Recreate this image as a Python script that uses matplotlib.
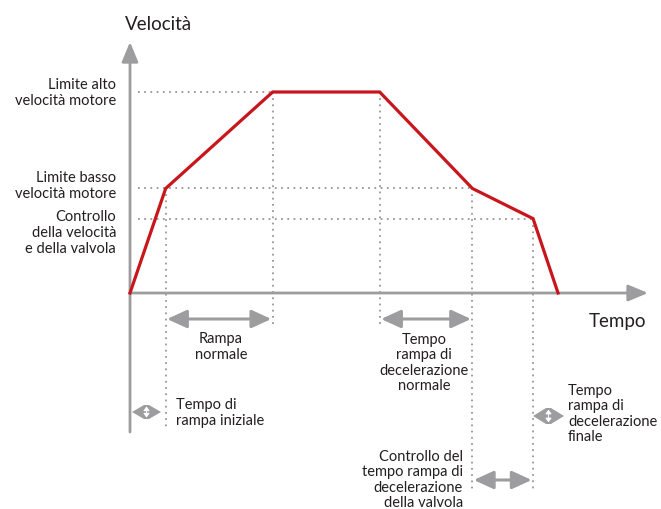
import matplotlib.pyplot as plt

# profilo di velocita' (unita' arbitrarie)
tempi = [0, 1, 4, 7, 9.6, 11.3, 12]
velocita = [0, 52, 100, 100, 52, 37, 0]
v_alto = 100
v_basso = 52
v_valvola = 37

ROSSO = '#c8161d'
GRIGIO = '#9d9d9f'
TESTO = '#231f20'
FONT = 'Lato'

# conversione pixel -> dati
X0, Y0 = 130, 293
SX, SY = 35.67, 2.01


def px(x, y):
    return (x - X0) / SX, (Y0 - y) / SY


def freccia_corta(ax, t_a, t_b, y, h=7.0):
    # due punte con le basi vicine e una piccola freccia bianca al centro
    mid = (t_a + t_b) / 2
    g = 2.5 / SX
    dh = h / SY
    ax.fill([t_a, mid - g, mid + g, t_b, mid + g, mid - g],
            [y, y + dh, y + dh, y, y - dh, y - dh], color=GRIGIO, lw=0, zorder=2)
    ax.annotate('', xy=(mid, y + dh * 0.8), xytext=(mid, y - dh * 0.8),
                arrowprops=dict(arrowstyle='<|-|>,head_length=0.25,head_width=0.18',
                                color='white', lw=0.7, shrinkA=0, shrinkB=0), zorder=3)


fig = plt.figure(figsize=(6.61, 5.09), dpi=100)
ax = fig.add_axes([0, 0, 1, 1])
ax.set_xlim(-X0 / SX, (661 - X0) / SX)
ax.set_ylim(-(509 - Y0) / SY, Y0 / SY)
ax.axis('off')

dot = dict(color=GRIGIO, lw=1.4, linestyle=(0, (0.9, 2.3)), zorder=1)

# linee guida orizzontali
x_start = px(138, 0)[0]
ax.plot([x_start, tempi[2]], [v_alto, v_alto], **dot)
ax.plot([x_start, tempi[4]], [v_basso, v_basso], **dot)
ax.plot([x_start, tempi[5]], [v_valvola, v_valvola], **dot)

# linee guida verticali
ax.plot([tempi[1], tempi[1]], [v_basso, px(0, 430)[1]], **dot)
ax.plot([tempi[2], tempi[2]], [v_alto, px(0, 328)[1]], **dot)
ax.plot([tempi[3], tempi[3]], [v_alto, px(0, 328)[1]], **dot)
ax.plot([tempi[4], tempi[4]], [v_basso, px(0, 490)[1]], **dot)
ax.plot([tempi[5], tempi[5]], [v_valvola, px(0, 490)[1]], **dot)

# assi
ax.annotate('', xy=px(130, 42), xytext=px(130, 432),
            arrowprops=dict(arrowstyle='-|>,head_length=1.2,head_width=0.5',
                            color=GRIGIO, lw=2, shrinkA=0, shrinkB=0), zorder=2)
ax.annotate('', xy=px(648, 293), xytext=px(130, 293),
            arrowprops=dict(arrowstyle='-|>,head_length=1.2,head_width=0.5',
                            color=GRIGIO, lw=2, shrinkA=0, shrinkB=0), zorder=2)

# profilo
ax.plot(tempi, velocita, color=ROSSO, lw=2.3, solid_joinstyle='miter', zorder=3)

# frecce dei tempi
freccia = dict(arrowstyle='<|-|>,head_length=1.2,head_width=0.55',
               color=GRIGIO, lw=2.2, shrinkA=1, shrinkB=1)
y_r = px(0, 319)[1]
ax.annotate('', xy=(tempi[2], y_r), xytext=(tempi[1], y_r), arrowprops=freccia)
ax.annotate('', xy=(tempi[4], y_r), xytext=(tempi[3], y_r), arrowprops=freccia)
ax.annotate('', xy=(tempi[5], px(0, 480)[1]), xytext=(tempi[4], px(0, 480)[1]),
            arrowprops=freccia)
freccia_corta(ax, px(132, 0)[0], px(161, 0)[0], px(0, 412)[1], h=7)
freccia_corta(ax, px(533, 0)[0], px(564, 0)[0], px(0, 416)[1], h=8)

# testi
big = dict(fontsize=13.5, color=TESTO, family=FONT)
sm = dict(fontsize=10.5, color=TESTO, family=FONT, linespacing=1.15)

ax.text(*px(125, 25), 'Velocità', ha='left', va='center', **big)
ax.text(*px(589, 321), 'Tempo', ha='left', va='center', **big)

ax.text(*px(116, 93), 'Limite alto\nvelocità motore', ha='right', va='center', **sm)
ax.text(*px(116, 186), 'Limite basso\nvelocità motore', ha='right', va='center', **sm)
ax.text(*px(116, 233), 'Controllo\ndella velocità\ne della valvola', ha='right', va='center', **sm)

ax.text(*px(221, 347), 'Rampa\nnormale', ha='center', va='center', **sm)
ax.text(*px(424, 363), 'Tempo\nrampa di\ndecelerazione\nnormale', ha='center', va='center', **sm)
ax.text(*px(176, 413), 'Tempo di\nrampa iniziale', ha='left', va='center', **sm)
ax.text(*px(568, 414), 'Tempo\nrampa di\ndecelerazione\nfinale', ha='left', va='center', **sm)
ax.text(*px(463, 480), 'Controllo del\ntempo rampa di\ndecelerazione\ndella valvola', ha='right', va='center', **sm)

fig.savefig('out.png', dpi=100)
